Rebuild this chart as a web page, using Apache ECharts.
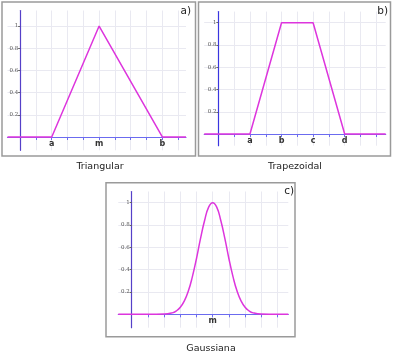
<!DOCTYPE html>
<html>
<head>
<meta charset="utf-8">
<script src="https://cdn.jsdelivr.net/npm/echarts@6/dist/echarts.min.js"></script>
<style>
  html, body { margin: 0; padding: 0; background: #fff; }
  #chart { width: 395px; height: 359px; }
</style>
</head>
<body>
<div id="chart"></div>
<script>
// 数据：三条隶属函数（从图上读出的点）
const triX = [-0.8, 2, 5, 9, 10.5];
const triY = [0, 0, 1, 0, 0];

const trapX = [-0.9, 2, 4, 6, 8, 10.6];
const trapY = [0, 0, 1, 1, 0, 0];

const gaussX = [-0.83, 1, 2, 2.5, 2.75, 3, 3.25, 3.5, 3.75, 4, 4.25, 4.5, 4.75, 5,
                5.25, 5.5, 5.75, 6, 6.25, 6.5, 6.75, 7, 7.25, 7.5, 8, 9, 9.67];
const gaussY = [0, 0, 0.002, 0.013, 0.03, 0.063, 0.12, 0.21, 0.34, 0.5, 0.68, 0.84, 0.96, 1,
                0.96, 0.84, 0.68, 0.5, 0.34, 0.21, 0.12, 0.063, 0.03, 0.013, 0.002, 0, 0];

// 刻度
const yTickValues = [0.2, 0.4, 0.6, 0.8, 1];
const triLabelPos = [2, 5, 9];
const triLabels = ["a", "m", "b"];
const trapLabelPos = [2, 4, 6, 8];
const trapLabels = ["a", "b", "c", "d"];
const gaussLabelPos = [5];
const gaussLabels = ["m"];
const ticksAB = [1, 2, 3, 4, 5, 6, 7, 8, 9, 10];
const ticksC = [1, 2, 3, 4, 5, 6, 7, 8, 9];

const captions = ["Triangular", "Trapezoidal", "Gaussiana"];
const tags = ["a)", "b)", "c)"];

const chart = echarts.init(document.getElementById("chart"));

// 每个面板的位置
const panels = [
  { grid: { left: 7.5, top: 10.5, width: 178.5, height: 139.8 },
    x: [-0.8, 10.5], y: [-0.12, 1.14], ticks: ticksAB, pos: triLabelPos, labels: triLabels,
    frame: [2, 2, 193.5, 154], tag: [191, 6], caption: [100, 162] },
  { grid: { left: 204.2, top: 11.6, width: 181.5, height: 134.1 },
    x: [-0.9, 10.6], y: [-0.105, 1.1], ticks: ticksAB, pos: trapLabelPos, labels: trapLabels,
    frame: [198.5, 2, 192, 154], tag: [388, 6], caption: [295, 162] },
  { grid: { left: 118.3, top: 191.5, width: 170, height: 136.2 },
    x: [-0.83, 9.67], y: [-0.12, 1.1], ticks: ticksC, pos: gaussLabelPos, labels: gaussLabels,
    frame: [106, 182.7, 189, 154], tag: [294, 186], caption: [211, 344] },
];
const seriesData = [
  triX.map((v, i) => [v, triY[i]]),
  trapX.map((v, i) => [v, trapY[i]]),
  gaussX.map((v, i) => [v, gaussY[i]]),
];

// 轴线放到 0 的位置（用 offset，不用 onZero）
function zeroOffset(range, size) {
  return -(-range[0]) / (range[1] - range[0]) * size;
}

const gridLine = { show: true, lineStyle: { color: "#e9e9f1", width: 1 } };

const option = {
  animation: false,
  backgroundColor: "#fff",
  grid: panels.map((p) => Object.assign({ containLabel: false }, p.grid)),
  xAxis: panels.map((p, i) => ({
    type: "value",
    gridIndex: i,
    min: p.x[0],
    max: p.x[1],
    position: "bottom",
    offset: zeroOffset(p.y, p.grid.height),
    axisLine: { onZero: false, lineStyle: { color: "#6b6bef", width: 1.2 } },
    axisTick: { show: true, customValues: p.ticks, length: 3,
                lineStyle: { color: "#6b6bef" } },
    axisLabel: {
      customValues: p.pos,
      formatter: (v) => p.labels[p.pos.indexOf(v)] || "",
      color: "#333", fontSize: 8, fontWeight: "bold", fontFamily: "DejaVu Sans", margin: 3,
    },
    splitLine: gridLine,
  })),
  yAxis: panels.map((p, i) => ({
    type: "value",
    gridIndex: i,
    min: p.y[0],
    max: p.y[1],
    position: "left",
    offset: zeroOffset(p.x, p.grid.width),
    axisLine: { onZero: false, lineStyle: { color: i === 1 ? "#3a35e0" : "#5540c8", width: 1.2 } },
    axisTick: { show: true, customValues: yTickValues, length: 2, lineStyle: { color: "#666" } },
    axisLabel: {
      customValues: yTickValues,
      formatter: (v) => (v === 1 ? "1" : String(v)),
      color: "#555", fontSize: 5.5, fontFamily: "DejaVu Serif", margin: 2,
    },
    splitLine: gridLine,
  })),
  title: panels.map((p, i) => ({
    text: captions[i],
    left: p.caption[0],
    top: p.caption[1],
    padding: 0,
    textAlign: "center",
    textStyle: { fontSize: 9.5, fontWeight: "normal", color: "#222", fontFamily: "DejaVu Sans" },
  })).concat(panels.map((p, i) => ({
    text: tags[i],
    left: p.tag[0],
    top: p.tag[1],
    padding: 0,
    textAlign: "right",
    textStyle: { fontSize: 10.5, fontWeight: "normal", color: "#222", fontFamily: "DejaVu Sans" },
  }))),
  graphic: panels.map((p) => ({
    type: "rect",
    shape: { x: p.frame[0], y: p.frame[1], width: p.frame[2], height: p.frame[3] },
    style: { fill: "none", stroke: "#9a9a9a", lineWidth: 1.5 },
    z: -1,
  })),
  series: panels.map((p, i) => ({
    type: "line",
    xAxisIndex: i,
    yAxisIndex: i,
    data: seriesData[i],
    smooth: i === 2 ? 0.5 : false,
    showSymbol: false,
    lineStyle: { color: "#dd35dd", width: 1.5 },
    z: 5,
  })),
};

chart.setOption(option);
</script>
</body>
</html>
